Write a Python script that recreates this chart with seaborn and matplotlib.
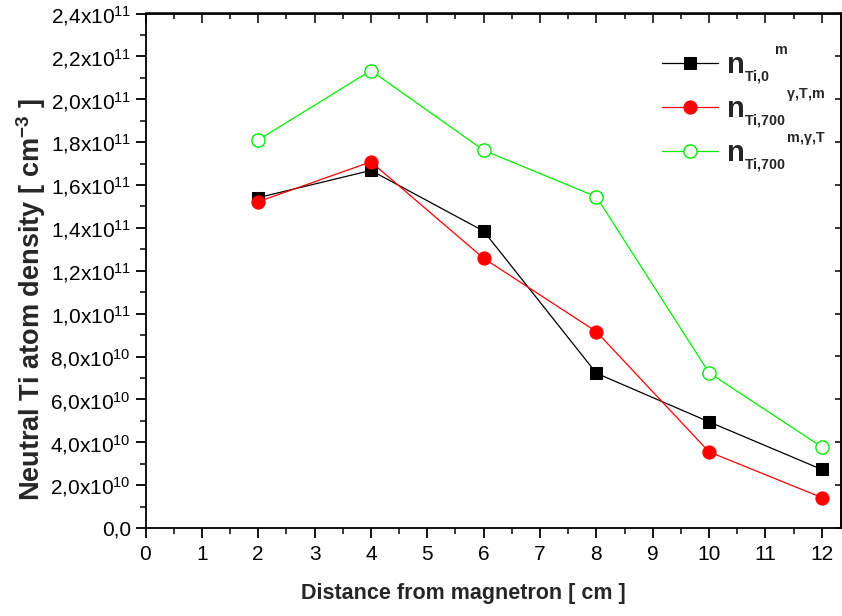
import matplotlib
matplotlib.use("Agg")
import matplotlib.pyplot as plt
import seaborn as sns
import numpy as np
import pandas as pd
from matplotlib.ticker import FixedLocator, MultipleLocator

# ---- data ----
distance = [2, 4, 6, 8, 10, 12]
n_ti0_m = [1.541e11, 1.668e11, 1.385e11, 0.722e11, 0.495e11, 0.273e11]
n_ti700_gtm = [1.522e11, 1.708e11, 1.258e11, 0.916e11, 0.355e11, 0.142e11]
n_ti700_mgt = [1.810e11, 2.134e11, 1.762e11, 1.545e11, 0.724e11, 0.378e11]

labels = [r"${\mathbf{n}_{{}_{\mathbf{Ti{,}0}}}}^{{}^{\ \mathbf{m}}}$",
          r"${\mathbf{n}_{{}_{\mathbf{Ti{,}700}}}}^{{}^{\mathbf{\gamma{,}T{,}m}}}$",
          r"${\mathbf{n}_{{}_{\mathbf{Ti{,}700}}}}^{{}^{\mathbf{m{,}\gamma{,}T}}}$"]

x_ticks = list(range(0, 13))
x_tick_labels = [str(v) for v in x_ticks]
y_ticks = [0, 2e10, 4e10, 6e10, 8e10, 1.0e11, 1.2e11, 1.4e11, 1.6e11,
           1.8e11, 2.0e11, 2.2e11, 2.4e11]
y_tick_labels = ["0,0", r"2,0x10$^{10}$", r"4,0x10$^{10}$", r"6,0x10$^{10}$",
                 r"8,0x10$^{10}$", r"1,0x10$^{11}$", r"1,2x10$^{11}$",
                 r"1,4x10$^{11}$", r"1,6x10$^{11}$", r"1,8x10$^{11}$",
                 r"2,0x10$^{11}$", r"2,2x10$^{11}$", r"2,4x10$^{11}$"]

df = pd.DataFrame({"x": distance, "a": n_ti0_m, "b": n_ti700_gtm, "c": n_ti700_mgt})

sns.set_style("white")
plt.rcParams["font.family"] = ["Liberation Sans", "DejaVu Sans"]
plt.rcParams["mathtext.fontset"] = "custom"
plt.rcParams["mathtext.rm"] = "Liberation Sans"
plt.rcParams["mathtext.it"] = "Liberation Sans:italic"
plt.rcParams["mathtext.bf"] = "Liberation Sans:bold"

fig = plt.figure(figsize=(8.42, 6.16), dpi=100)
ax = fig.add_axes([145.5 / 842, (616 - 528) / 616, (841 - 145.5) / 842, (528 - 13.5) / 616])

sns.lineplot(data=df, x="x", y="a", ax=ax, color="black", lw=0.9, marker="s",
             markersize=8.5, markerfacecolor="black", markeredgecolor="black",
             label=labels[0])
sns.lineplot(data=df, x="x", y="b", ax=ax, color="#ff0000", lw=0.9, marker="o",
             markersize=9.5, markerfacecolor="#ff0000", markeredgecolor="#ff0000",
             label=labels[1])
sns.lineplot(data=df, x="x", y="c", ax=ax, color="#00ee00", lw=0.9, marker="o",
             markersize=9.5, markerfacecolor="white", markeredgecolor="#00ee00",
             markeredgewidth=1.0, label=labels[2])

ax.set_xlim(0, 12.34)
ax.set_ylim(0, 2.4e11)
ax.xaxis.set_major_locator(FixedLocator(x_ticks))
ax.set_xticklabels(x_tick_labels)
ax.xaxis.set_minor_locator(MultipleLocator(0.5))
ax.yaxis.set_major_locator(FixedLocator(y_ticks))
ax.set_yticklabels(y_tick_labels)
ax.yaxis.set_minor_locator(MultipleLocator(1e10))

for s in ax.spines.values():
    s.set_visible(True)
    s.set_color("black")
    s.set_linewidth(1.3)

ax.tick_params(which="major", direction="out", length=7.5, width=1.3,
               labelsize=15, colors="black", pad=3)
ax.tick_params(axis="x", which="major", pad=5)
ax.tick_params(which="minor", direction="out", length=4, width=1.3)
ax.tick_params(axis="both", which="both", bottom=True, left=True)

# mirrored inward ticks on top and right
top = ax.secondary_xaxis("top")
top.xaxis.set_major_locator(FixedLocator(x_ticks))
top.xaxis.set_minor_locator(MultipleLocator(0.5))
top.tick_params(which="major", direction="in", length=7.5, width=1.3, labeltop=False)
top.tick_params(which="minor", direction="in", length=4, width=1.3)
top.spines["top"].set_linewidth(1.3)
right = ax.secondary_yaxis("right")
right.yaxis.set_major_locator(FixedLocator(y_ticks))
right.yaxis.set_minor_locator(MultipleLocator(1e10))
right.tick_params(which="major", direction="in", length=4, width=1.3, labelright=False)
right.tick_params(which="minor", direction="in", length=0, width=1.3)
right.spines["right"].set_linewidth(1.3)

ax.set_xlabel("Distance from magnetron [ cm ]", fontsize=15.5, fontweight="bold")
ax.xaxis.set_label_coords((463 - 145.5) / (841 - 145.5), -(594 - 528) / (528 - 13.5),
                          transform=ax.transAxes)
ax.xaxis.label.set_va("center")
ax.set_ylabel(r"Neutral Ti atom density [ cm$^{\mathbf{-3}}$ ]", fontsize=19.5,
              fontweight="bold")
ax.yaxis.set_label_coords(-(145.5 - 31) / (841 - 145.5), (528 - 300) / (528 - 13.5),
                          transform=ax.transAxes)
ax.yaxis.label.set_va("center")

leg = ax.legend(loc="upper left", bbox_to_anchor=(0.742, 0.94), frameon=False,
                fontsize=21, handlelength=1.95, handletextpad=0.25, labelspacing=0.0,
                borderaxespad=0, borderpad=0)

fig.savefig("out.png", dpi=100)
